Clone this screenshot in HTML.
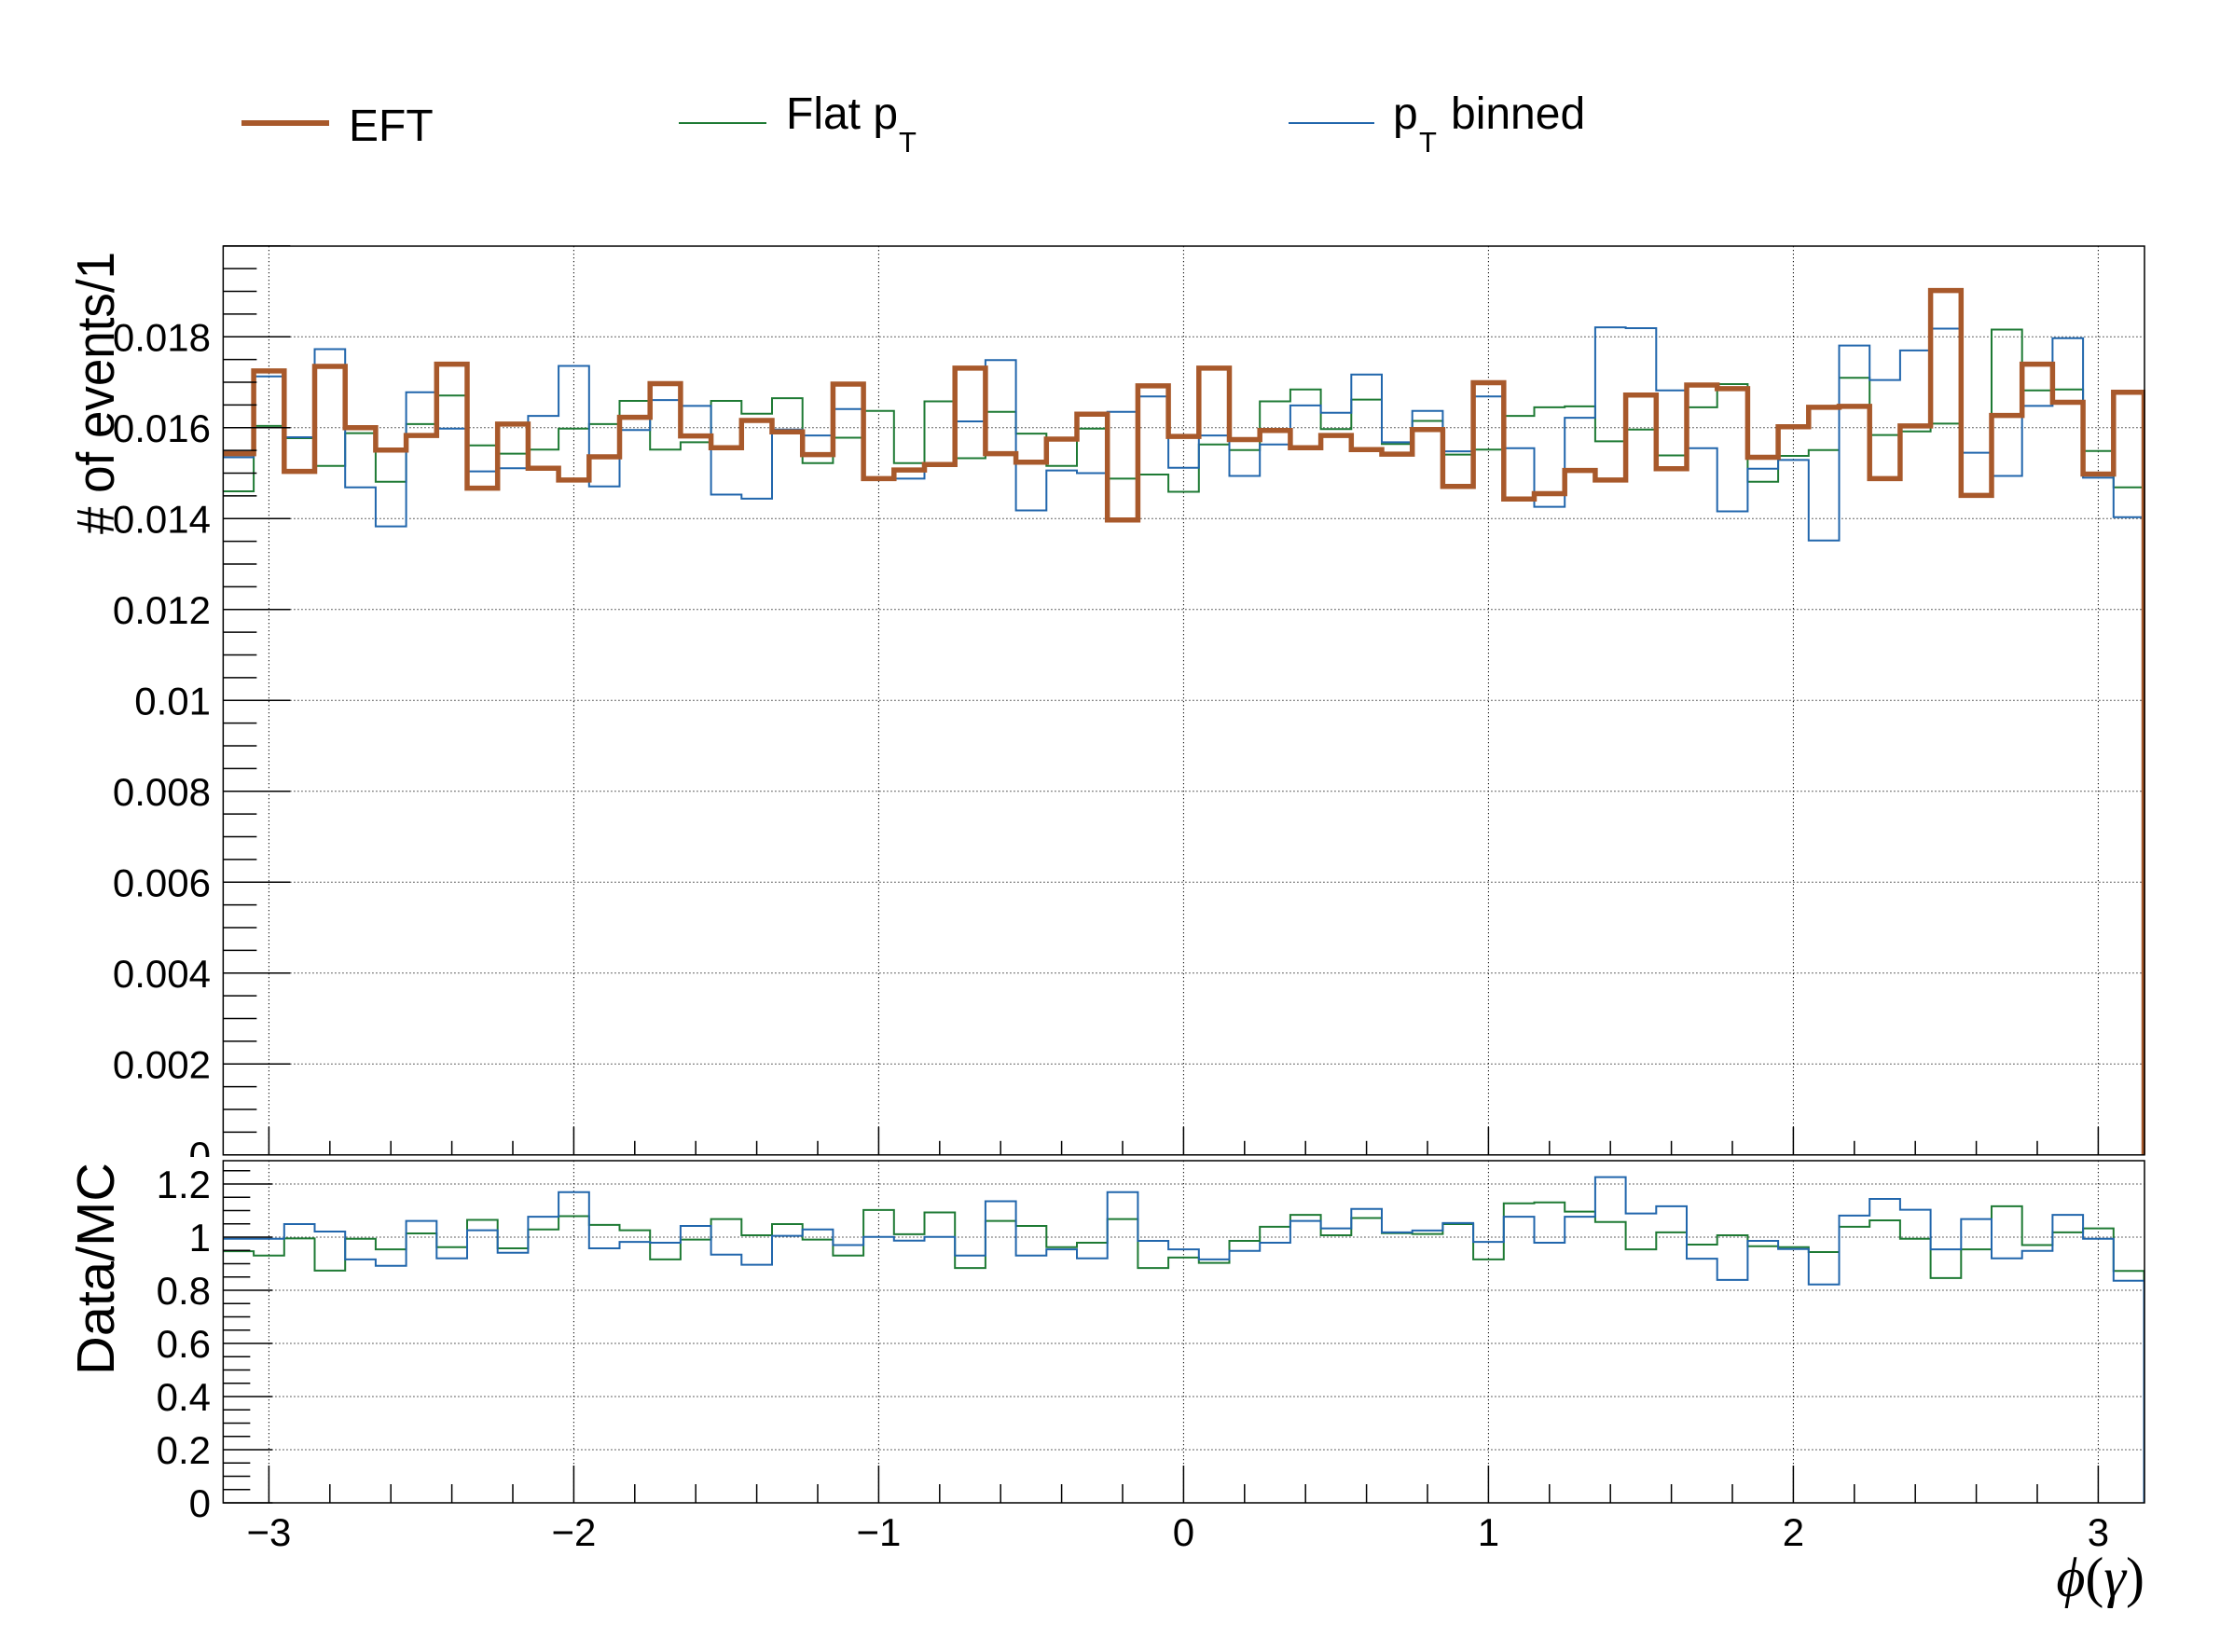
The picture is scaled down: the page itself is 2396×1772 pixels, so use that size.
<!DOCTYPE html>
<html><head><meta charset="utf-8"><title>phi(gamma)</title>
<style>
html,body{margin:0;padding:0;background:#fff;}
svg{display:block;}
text{font-family:"Liberation Sans",sans-serif;fill:#000;}
</style></head>
<body>
<svg id="chart" width="2396" height="1772" viewBox="0 0 2396 1772" xmlns="http://www.w3.org/2000/svg">
  <rect x="0" y="0" width="2396" height="1772" fill="#fff"/>
  <g id="main-grid"></g>
  <g id="ratio-grid"></g>
  <defs>
    <clipPath id="clipMain"><rect x="239" y="264" width="2062" height="976"/></clipPath>
    <clipPath id="clipRatio"><rect x="239" y="1245" width="2062" height="368"/></clipPath>
    <clipPath id="clipMainPad"><rect x="0" y="0" width="2396" height="1241"/></clipPath>
  </defs>
  <g id="main-series" clip-path="url(#clipMain)"></g>
  <g id="ratio-series" clip-path="url(#clipRatio)"></g>
  <g id="axes"></g>
  <g id="main-labels" clip-path="url(#clipMainPad)"></g>

  <!-- legend -->
  <g>
    <g>
      <line x1="259" y1="132" x2="353" y2="132" stroke="#a8592b" stroke-width="6"/>
      <text x="374" y="151" font-size="48">EFT</text>
    </g>
    <g>
      <line x1="728" y1="132" x2="822" y2="132" stroke="#1e7a34" stroke-width="2"/>
      <text x="843" y="138" font-size="48">Flat p</text>
      <text x="964" y="163" font-size="31">T</text>
    </g>
    <g>
      <line x1="1382" y1="132" x2="1474" y2="132" stroke="#2166ac" stroke-width="2"/>
      <text x="1494" y="138" font-size="48">p</text>
      <text x="1522" y="163" font-size="31">T</text>
      <text x="1556" y="138" font-size="48">binned</text>
    </g>
  </g>

  <text transform="translate(122,573) rotate(-90)" font-size="57" textLength="303" lengthAdjust="spacingAndGlyphs"># of events/1</text>
  <text transform="translate(122,1475) rotate(-90)" font-size="57" textLength="228" lengthAdjust="spacingAndGlyphs">Data/MC</text>
  <text x="2300" y="1712" text-anchor="end" font-size="60" style="font-family:'Liberation Serif',serif;"><tspan font-style="italic">ϕ</tspan>(<tspan font-style="italic">γ</tspan>)</text>
</svg>
<script>
// ---- data (63 bins, width 0.1, from -3.15 to 3.15) ----
const binStart = -3.15;
const binWidth = 0.1;
// main panel values in units of 1e-3
const eftValues = [15.43,17.25,15.04,17.35,16.0,15.51,15.83,17.40,14.67,16.08,15.11,14.85,15.36,16.23,16.97,15.82,15.56,
  16.16,15.91,15.41,16.96,14.88,15.07,15.19,17.31,15.43,15.24,15.75,16.30,13.97,16.92,15.81,17.31,
  15.74,15.94,15.56,15.83,15.52,15.42,15.96,14.71,16.99,14.43,14.55,15.06,14.85,16.72,15.10,16.94,
  16.86,15.35,16.02,16.45,16.47,14.88,16.04,19.02,14.51,16.27,17.40,16.56,14.98,16.78];
const flatPtValues = [14.60,16.04,15.77,15.16,15.88,14.81,16.08,16.71,15.61,15.43,15.52,15.98,16.08,16.59,15.52,15.68,16.59,
  16.31,16.65,15.22,15.78,16.37,15.22,16.58,15.33,16.35,15.87,15.16,15.98,14.88,14.97,14.59,15.63,
  15.51,16.58,16.84,15.97,16.62,15.64,16.15,15.41,15.52,16.26,16.45,16.47,15.70,15.96,15.39,16.45,
  16.96,14.81,15.38,15.51,17.10,15.84,15.92,16.09,14.50,18.16,16.82,16.84,15.49,14.69];
const ptBinnedValues = [15.35,17.13,15.79,17.73,14.69,13.83,16.78,15.98,15.04,15.11,16.26,17.36,14.71,15.95,16.61,16.48,14.53,
  14.44,15.96,15.83,16.41,14.90,14.88,15.16,16.14,17.49,14.18,15.06,15.00,16.35,16.69,15.12,15.83,
  14.94,15.63,16.49,16.33,17.17,15.68,16.37,15.48,16.69,15.55,14.26,16.22,18.21,18.19,16.82,15.55,
  14.16,15.10,15.29,13.52,17.81,17.05,17.70,18.18,15.45,14.94,16.48,17.97,14.90,14.03];
// ratio panel
const ratioFlatPt = [0.947,0.931,0.995,0.874,0.994,0.954,1.014,0.962,1.065,0.958,1.029,1.079,1.046,1.026,0.916,0.991,1.068,
  1.007,1.049,0.991,0.931,1.102,1.011,1.093,0.884,1.061,1.042,0.962,0.979,1.068,0.884,0.923,0.903,
  0.986,1.039,1.084,1.007,1.072,1.015,1.012,1.049,0.916,1.127,1.131,1.096,1.057,0.954,1.018,0.972,
  1.007,0.966,0.962,0.944,1.039,1.063,0.994,0.846,0.954,1.116,0.970,1.018,1.033,0.873];
const ratioPtBinned = [0.994,0.994,1.049,1.021,0.916,0.892,1.061,0.920,1.026,0.941,1.077,1.169,0.958,0.982,0.979,1.042,0.934,
  0.896,1.005,1.029,0.970,1.001,0.987,1.001,0.931,1.135,0.931,0.954,0.920,1.169,0.986,0.954,0.916,
  0.948,0.979,1.061,1.033,1.106,1.018,1.025,1.053,0.982,1.077,0.979,1.077,1.226,1.089,1.116,0.919,
  0.839,0.986,0.955,0.822,1.081,1.144,1.103,0.954,1.068,0.920,0.948,1.084,0.994,0.836];
const mainYTicks = [0,2,4,6,8,10,12,14,16,18];
const mainYTickLabels = ["0","0.002","0.004","0.006","0.008","0.01","0.012","0.014","0.016","0.018"];
const ratioYTicks = [0,0.2,0.4,0.6,0.8,1.0,1.2];
const ratioYTickLabels = ["0","0.2","0.4","0.6","0.8","1","1.2"];
const xTicks = [-3,-2,-1,0,1,2,3];
const xTickLabels = ["\u22123","\u22122","\u22121","0","1","2","3"];

// ---- axis functions ----
const X0 = 1269.4, XS = 327;
const xPos = v => X0 + v*XS;
const yMain = v => 1238.8 - v*48.75;
const yRatio = r => 1612 - r*285;
const L = 239.35, R = 2300, MT = 264, MB = 1238.8, RT = 1245, RB = 1612;
const NS = 'http://www.w3.org/2000/svg';

function mk(tag, attrs, parent){
  const e = document.createElementNS(NS, tag);
  for (const k in attrs) e.setAttribute(k, attrs[k]);
  parent.appendChild(e);
  return e;
}
function stepPath(vals, yf){
  let d = '';
  for (let i=0;i<vals.length;i++){
    const xa = xPos(binStart + i*binWidth), xb = xPos(binStart + (i+1)*binWidth);
    const y = yf(vals[i]).toFixed(1);
    d += (i===0 ? 'M'+xa.toFixed(1)+','+y : ' V'+y) + ' H'+xb.toFixed(1);
  }
  d += ' V' + yf(0).toFixed(1);
  return d;
}

const mg = document.getElementById('main-grid');
const rg = document.getElementById('ratio-grid');
const ax = document.getElementById('axes');
const ml = document.getElementById('main-labels');
const ms = document.getElementById('main-series');
const rs = document.getElementById('ratio-series');

// grids
xTicks.forEach(t => {
  const x = xPos(t);
  const g1 = mk('line',{x1:x,y1:MT,x2:x,y2:MB,stroke:'#000','stroke-width':1,'stroke-dasharray':'1.2 2.8'},mg);
  
  
  const g2 = mk('line',{x1:x,y1:RT,x2:x,y2:RB,stroke:'#000','stroke-width':1,'stroke-dasharray':'1.2 2.8'},rg);
  
  
});
mainYTicks.forEach(t => {
  if (t===0) return;
  const y = yMain(t);
  const g = mk('line',{x1:L,y1:y,x2:R,y2:y,stroke:'#000','stroke-width':1,'stroke-dasharray':'1.2 2.8'},mg);
  
  
});
ratioYTicks.forEach(t => {
  if (t===0) return;
  const y = yRatio(t);
  const g = mk('line',{x1:L,y1:y,x2:R,y2:y,stroke:'#000','stroke-width':1,'stroke-dasharray':'1.2 2.8'},rg);
  
  
});

// series
const pG = mk('path',{d:stepPath(flatPtValues,yMain),fill:'none',stroke:'#1e7a34','stroke-width':2},ms);


const pB = mk('path',{d:stepPath(ptBinnedValues,yMain),fill:'none',stroke:'#2166ac','stroke-width':2},ms);


const pE = mk('path',{d:stepPath(eftValues,yMain),fill:'none',stroke:'#a8592b','stroke-width':5.5},ms);


const rG = mk('path',{d:stepPath(ratioFlatPt,yRatio),fill:'none',stroke:'#1e7a34','stroke-width':2},rs);


const rB = mk('path',{d:stepPath(ratioPtBinned,yRatio),fill:'none',stroke:'#2166ac','stroke-width':2},rs);



// frames
const f1 = mk('rect',{x:L,y:MT,width:R-L,height:MB-MT,fill:'none',stroke:'#000','stroke-width':1.5},ax);


const f2 = mk('rect',{x:L,y:RT,width:R-L,height:RB-RT,fill:'none',stroke:'#000','stroke-width':1.5},ax);



// main y ticks & labels
for (let v=0; v<=20.001; v+=0.5){
  const y = yMain(v);
  const major = Math.abs(v/2 - Math.round(v/2)) < 1e-6;
  mk('line',{x1:L,y1:y,x2:L+(major?72:36),y2:y,stroke:'#000','stroke-width':1.5},ax);
}
mainYTicks.forEach((t,i) => {
  const tx = mk('text',{x:226,y:yMain(t)+15,'text-anchor':'end','font-size':42},ml);
  tx.textContent = mainYTickLabels[i];
  
  
});

// ratio y ticks & labels
for (let v=0; v<=1.2801; v+=0.05){
  const y = yRatio(v);
  const major = Math.abs(v/0.2 - Math.round(v/0.2)) < 1e-6;
  mk('line',{x1:L,y1:y,x2:L+(major?53:29),y2:y,stroke:'#000','stroke-width':1.5},ax);
}
ratioYTicks.forEach((t,i) => {
  const tx = mk('text',{x:226,y:yRatio(t)+15,'text-anchor':'end','font-size':42},ax);
  tx.textContent = ratioYTickLabels[i];
  
  
});

// x ticks (both pads) & labels
for (let k=-15; k<=15; k++){
  const v = k*0.2, x = xPos(v);
  if (x < L || x > R) continue;
  const major = k%5===0;
  mk('line',{x1:x,y1:MB,x2:x,y2:MB-(major?30:15),stroke:'#000','stroke-width':1.5},ax);
  mk('line',{x1:x,y1:RB,x2:x,y2:RB-(major?40:20),stroke:'#000','stroke-width':1.5},ax);
}
xTicks.forEach((t,i) => {
  const tx = mk('text',{x:xPos(t),y:1658,'text-anchor':'middle','font-size':42},ax);
  tx.textContent = xTickLabels[i];
  
  
});
</script>
</body></html>
